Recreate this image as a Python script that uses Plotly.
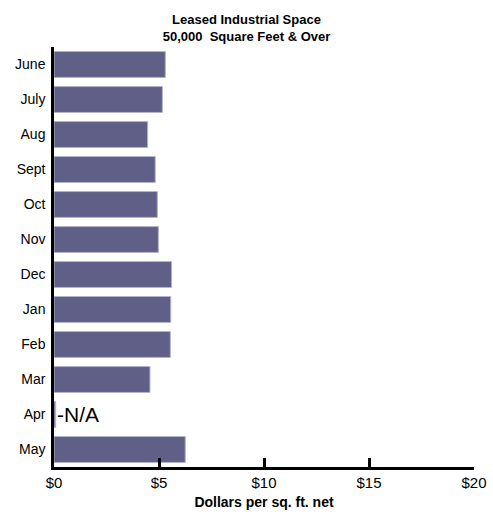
import plotly.graph_objects as go

months = ['June', 'July', 'Aug', 'Sept', 'Oct', 'Nov', 'Dec', 'Jan', 'Feb', 'Mar', 'Apr', 'May']
dollars = [5.30, 5.16, 4.46, 4.82, 4.92, 4.97, 5.60, 5.56, 5.54, 4.57, 0.08, 6.25]
tick_vals = [0, 5, 10, 15, 20]
tick_text = ['$0', '$5', '$10', '$15', '$20']

narrow = 'Liberation Sans Narrow, Arial Narrow, Liberation Sans, Arial'

fig = go.Figure(go.Bar(
    x=dollars, y=months, orientation='h',
    marker=dict(color='#5f5f87', line=dict(color='#b4b4cc', width=1)),
))

# missing month
fig.add_annotation(x=0, y='Apr', text='-N/A', showarrow=False, xanchor='left',
                   xshift=1, font=dict(family='Liberation Sans, Arial', size=21, color='black'))

fig.update_layout(
    width=493, height=518,
    margin=dict(l=54, r=19, t=47, b=51),
    paper_bgcolor='white', plot_bgcolor='white',
    bargap=0.26,
    showlegend=False,
    title=dict(text='<b>Leased Industrial Space<br>50,000  Square Feet & Over</b>',
               x=0.5, xanchor='center', y=1 - 24 / 518, yanchor='middle',
               font=dict(family=narrow, size=13, color='black')),
    font=dict(family=narrow, color='black'),
)
fig.update_xaxes(range=[0, 20], tickvals=tick_vals, ticktext=tick_text,
                 ticks='inside', ticklen=9, tickwidth=2.5, tickcolor='black',
                 showline=True, linewidth=2.5, linecolor='black', showgrid=False,
                 zeroline=False, tickfont=dict(size=15), automargin=False,
                 title=dict(text='<b>Dollars per sq. ft. net</b>', font=dict(size=14), standoff=8))
fig.update_yaxes(autorange='reversed', showline=True, linewidth=2.5, linecolor='black',
                 showgrid=False, ticks='', ticklabelstandoff=3, automargin=False,
                 tickfont=dict(size=14))

fig.write_html('out.html', config={'displayModeBar': False},
               post_script="document.body.style.margin='0';")
